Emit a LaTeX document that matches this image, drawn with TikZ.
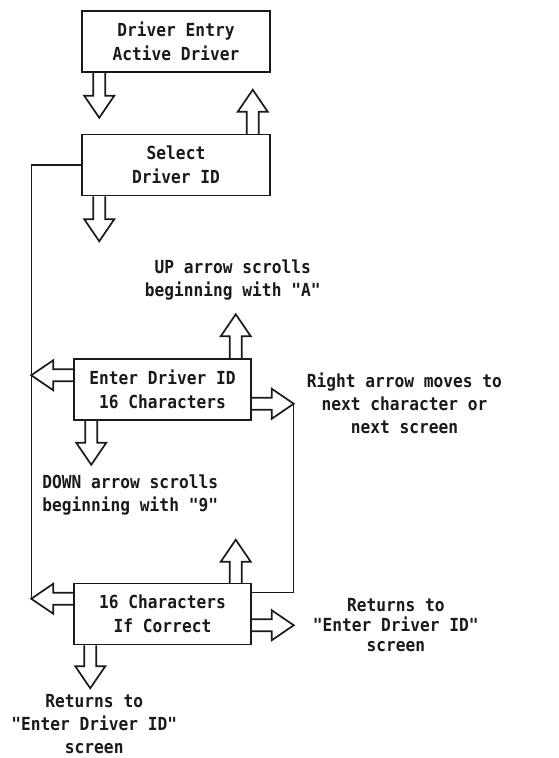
\documentclass[tikz,border=0pt]{standalone}
\usepackage{fontspec}
\usetikzlibrary{positioning,calc}
\newfontfamily\plotfont[FakeStretch=0.9]{DejaVu Sans Mono Bold}
\definecolor{ink}{HTML}{1A1A1A}
\definecolor{paper}{HTML}{FFFFFF}

\begin{document}
\begin{tikzpicture}[x=1pt, y=1pt,
    node distance=61pt,
    box/.style={draw=ink, line width=1.5pt, minimum width=188pt, minimum height=61pt, inner sep=2pt, align=center, font=\plotfont\fontsize{18}{24}\selectfont, text=ink},
    lbl/.style={inner sep=0pt, align=center, font=\plotfont\fontsize{18}{23}\selectfont, text=ink},
    wire/.style={draw=ink, line width=1.3pt},
    blk/.style={draw=ink, line width=1.7pt, line join=miter, to path={
      let \p1=($(\tikztotarget)!22pt!(\tikztostart)$) in
      ($(\tikztostart)!6pt!90:(\tikztotarget)$) -- ($(\p1)!6pt!90:(\tikztotarget)$)
      -- ($(\p1)!15pt!90:(\tikztotarget)$) -- (\tikztotarget)
      -- ($(\p1)!15pt!-90:(\tikztotarget)$) -- ($(\p1)!6pt!-90:(\tikztotarget)$)
      -- ($(\tikztostart)!6pt!-90:(\tikztotarget)$)}}]
  \fill[paper] (0,0) rectangle (558,-758);
  \useasboundingbox (0,0) rectangle (558,-758);

  \node[box] (drv) at (176,-41.5) {Driver Entry\\Active Driver};
  \node[box, below=of drv] (sel) {Select\\Driver ID};
  \node[box, minimum width=177pt, below=162pt of sel, xshift=-13.5pt] (ent) {Enter Driver ID\\16 Characters};
  \node[box, minimum width=177pt, below=162pt of ent] (chk) {16 Characters\\If Correct};

  \coordinate (drvdn) at ([xshift=18pt,yshift=-45pt]drv.south west);
  \coordinate (selup) at ([xshift=-18pt,yshift=44pt]sel.north east);
  \coordinate (seldn) at ([xshift=18pt,yshift=-45pt]sel.south west);
  \coordinate (entup) at ([xshift=-16pt,yshift=44pt]ent.north east);
  \coordinate (entlf) at ([xshift=-42pt,yshift=-17pt]ent.north west);
  \coordinate (entrt) at ([xshift=42pt,yshift=17pt]ent.south east);
  \coordinate (entdn) at ([xshift=18pt,yshift=-44pt]ent.south west);
  \coordinate (chkup) at ([xshift=-16pt,yshift=43pt]chk.north east);
  \coordinate (chklf) at ([xshift=-42pt,yshift=-16pt]chk.north west);
  \coordinate (chkrt) at ([xshift=42pt,yshift=20pt]chk.south east);
  \coordinate (chkdn) at ([xshift=17pt,yshift=-43pt]chk.south west);

  \draw[wire] (sel.west) -| (chklf);
  \draw[wire] (entrt) |- ([yshift=-10pt]chk.north east);

  \draw[blk] (drvdn |- drv.south) to (drvdn);
  \draw[blk] (selup |- sel.north) to (selup);
  \draw[blk] (seldn |- sel.south) to (seldn);
  \draw[blk] (entup |- ent.north) to (entup);
  \draw[blk] (entlf -| ent.west) to (entlf);
  \draw[blk] (entrt -| ent.east) to (entrt);
  \draw[blk] (entdn |- ent.south) to (entdn);
  \draw[blk] (chkup |- chk.north) to (chkup);
  \draw[blk] (chklf -| chk.west) to (chklf);
  \draw[blk] (chkrt -| chk.east) to (chkrt);
  \draw[blk] (chkdn |- chk.south) to (chkdn);

  \node[lbl, above=14pt of entup, xshift=-3pt] (uplbl) {UP arrow scrolls\\beginning with "A"};
  \node[lbl, right=13pt of entrt] (rtlbl) {Right arrow moves to\\next character or\\next screen};
  \node[lbl, below=10pt of entdn, xshift=39pt] (dnlbl) {DOWN arrow scrolls\\beginning with "9"};
  \node[lbl, right=19pt of chkrt, font=\plotfont\fontsize{18}{20}\selectfont] (rtnrt) {Returns to\\"Enter Driver ID"\\screen};
  \node[lbl, below=6pt of chkdn, xshift=4pt] (rtndn) {Returns to\\"Enter Driver ID"\\screen};
\end{tikzpicture}
\end{document}
